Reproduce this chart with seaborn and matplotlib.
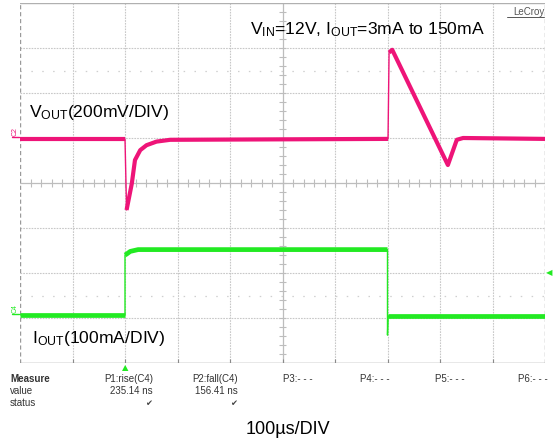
import matplotlib
matplotlib.use("Agg")
import matplotlib.pyplot as plt
import seaborn as sns
import numpy as np

# Time axis in divisions (100 µs/DIV), amplitudes in divisions
vout_t = [0.0, 2.00, 2.03, 2.13, 2.19, 2.29, 2.41, 2.60, 2.86, 7.01, 7.03, 7.09, 8.15, 8.32, 8.44, 10.0]
vout_y = [4.98, 4.98, 3.40, 3.99, 4.51, 4.73, 4.84, 4.92, 4.96, 4.98, 6.90, 6.96, 4.40, 4.96, 5.00, 4.98]

iout_t = [0.0, 2.00, 2.00, 2.03, 2.10, 2.25, 7.00, 7.00, 7.01, 10.0]
iout_y = [1.07, 1.07, 2.40, 2.42, 2.48, 2.52, 2.52, 0.62, 1.04, 1.04]

# Measurement table
meas_names = ["P1:rise(C4)", "P2:fall(C4)", "P3:- - -", "P4:- - -", "P5:- - -", "P6:- - -"]
meas_values = ["235.14 ns", "156.41 ns"]

sns.set_theme(style="white")
plt.rcParams["font.family"] = ["Liberation Sans", "DejaVu Sans"]
plt.rcParams["mathtext.fontset"] = "custom"
plt.rcParams["mathtext.rm"] = "Liberation Sans"
plt.rcParams["mathtext.it"] = "Liberation Sans:italic"

W, H = 554, 443
fig = plt.figure(figsize=(W / 100, H / 100), dpi=100)
fig.patch.set_facecolor("white")
ax = fig.add_axes([20 / W, 80 / H, 525 / W, 360 / H])
ax.set_xlim(0, 10)
ax.set_ylim(0, 8)
ax.set_axis_off()

def px(x, y):
    return x / W, 1 - y / H

grid_c = "#c8c8c8"
# graticule
for gx in range(1, 10):
    if gx == 5:
        continue
    ax.axvline(gx, color=grid_c, lw=0.8, ls=(0, (1.5, 1.0)), zorder=1)
for gy in range(1, 8):
    if gy == 4:
        continue
    ax.axhline(gy, color=grid_c, lw=0.8, ls=(0, (1.5, 1.0)), zorder=1)
# center axes with minor ticks
ax.axvline(5, color="#bdbdbd", lw=0.9, zorder=1)
ax.axhline(4, color="#bdbdbd", lw=0.9, zorder=1)
minor_x = np.arange(0.2, 10, 0.2)
minor_y = np.arange(0.2, 8, 0.2)
ax.vlines(minor_x, 3.92, 4.08, color="#bdbdbd", lw=0.8, zorder=1)
ax.hlines(minor_y, 4.925, 5.075, color="#bdbdbd", lw=0.8, zorder=1)
# faint dotted reference rows
for ry in (6.5, 1.5):
    ax.axhline(ry, color="#cfcfcf", lw=0.9, ls=(0, (1.2, 7.5)), zorder=1)
# frame
ax.axvline(0, color="#9a9a9a", lw=1.0, ls=(0, (3, 2)), zorder=2)
ax.axvline(10, color="#9a9a9a", lw=1.0, ls=(0, (3, 2)), zorder=2)
ax.axhline(0, color="#8a8a8a", lw=1.0, zorder=2)
ax.axhline(8, color="#b0b0b0", lw=1.0, zorder=2)
ax.vlines(np.arange(1, 10), 0, 0.08, color="#8a8a8a", lw=0.8, zorder=2)

pink = "#ee1478"
green = "#22ea22"
band = dict(solid_capstyle="butt", solid_joinstyle="round")

# thin trace (step edges), then thick noisy-band body
sns.lineplot(x=vout_t, y=vout_y, sort=False, estimator=None, color=pink, lw=1.0, ax=ax, zorder=4)
for a, b in ((0, 2), (2, 10), (10, 16)):
    sns.lineplot(x=vout_t[a:b], y=vout_y[a:b], sort=False, estimator=None,
                 color=pink, lw=3.0, ax=ax, zorder=5, **band)

sns.lineplot(x=iout_t, y=iout_y, sort=False, estimator=None, color=green, lw=1.0, ax=ax, zorder=4)
for a, b in ((0, 2), (2, 7), (8, 10)):
    sns.lineplot(x=iout_t[a:b], y=iout_y[a:b], sort=False, estimator=None,
                 color=green, lw=3.4, ax=ax, zorder=5, **band)

# channel markers on the left edge
fig.text(*px(15, 131), "C2", color=pink, fontsize=5, rotation=90, ha="center", va="center")
fig.add_artist(plt.Line2D([12 / W, 19 / W], [1 - 137 / H, 1 - 137 / H], color=pink, lw=1.0))
fig.text(*px(15, 309), "C4", color=green, fontsize=5, rotation=90, ha="center", va="center")
fig.add_artist(plt.Line2D([12 / W, 19 / W], [1 - 314 / H, 1 - 314 / H], color=green, lw=1.0))

# trigger markers
fig.text(*px(549, 273), "\u25C0", color=green, fontsize=6, ha="center", va="center",
         family="DejaVu Sans")
fig.text(*px(125, 368), "\u25B2", color=green, fontsize=6, ha="center", va="center",
         family="DejaVu Sans")

# annotations
fig.text(*px(250, 34), r"V$_{\rm IN}$=12V, I$_{\rm OUT}$=3mA to 150mA", fontsize=12.6,
         color="black", ha="left", va="baseline")
fig.text(*px(29, 117), r"V$_{\rm OUT}$(200mV/DIV)", fontsize=12.6, color="black",
         ha="left", va="baseline")
fig.text(*px(32, 343), r"I$_{\rm OUT}$(100mA/DIV)", fontsize=12.6, color="black",
         ha="left", va="baseline")
fig.text(*px(288, 434), "100\u00b5s/DIV", fontsize=13, color="black", ha="center",
         va="baseline")

# LeCroy badge
fig.text(*px(544, 15), "LeCroy", fontsize=7, color="#555555", ha="right", va="baseline")
fig.add_artist(plt.Line2D([507 / W, 544 / W], [1 - 17 / H, 1 - 17 / H], color="#555555", lw=0.7))

# measurement table
tc = "#333333"
narrow = ["Liberation Sans Narrow", "Liberation Sans", "DejaVu Sans"]
fig.text(*px(10, 382), "Measure", fontsize=7, color=tc, fontweight="bold", family=narrow)
fig.text(*px(10, 394), "value", fontsize=7, color=tc, family=narrow)
fig.text(*px(10, 406), "status", fontsize=7, color=tc, family=narrow)
name_right = [153, 238, 313, 390, 465, 548]
for r, name in zip(name_right, meas_names):
    fig.text(*px(r, 382), name, fontsize=7, color=tc, ha="right", family=narrow)
for r, val in zip(name_right, meas_values):
    fig.text(*px(r, 394), val, fontsize=7, color=tc, ha="right", family=narrow)
    fig.text(*px(r - 4, 406), "\u2714", fontsize=6, color="#444444", ha="center",
             family="DejaVu Sans")

fig.savefig("out.png", dpi=100, facecolor="white")
